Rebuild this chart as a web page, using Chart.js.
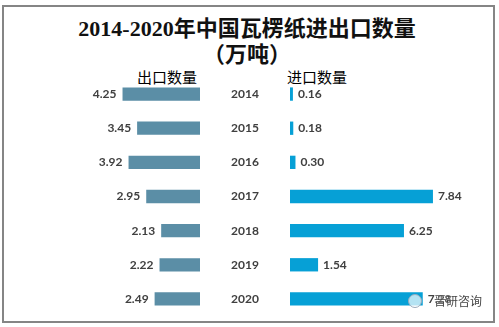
<!DOCTYPE html>
<html>
<head>
<meta charset="utf-8">
<script src="https://cdn.jsdelivr.net/npm/chart.js@4"></script>
<style>
  body { margin: 0; background: #fff; width: 499px; height: 327px; overflow: hidden; position: relative; font-family: "Noto Sans CJK SC", sans-serif; }
  #frame { position: absolute; left: 2px; top: 5px; width: 489px; height: 314px; border: 2px solid #858585; }
  .title { position: absolute; left: 0; width: 494px; text-align: center; font-family: "Liberation Serif", "Noto Sans CJK SC", serif; font-weight: bold; font-size: 22px; color: #111; }
  .leg { position: absolute; top: 66px; font-size: 15px; color: #000; width: 80px; text-align: center; }
  #wrapL { position: absolute; left: 60px; top: 77px; width: 140px; height: 239px; }
  #wrapR { position: absolute; left: 200px; top: 77px; width: 280px; height: 239px; }
  #wm { position: absolute; left: 408px; top: 290px; font-size: 12px; color: #444; }
  #wm i { display: inline-block; width: 12px; height: 12px; border-radius: 50%; border: 1.5px solid #9ab; background: rgba(255,255,255,0.7); vertical-align: middle; margin-right: 12px; }
  #wm span { vertical-align: middle; text-shadow: 0 0 2px #fff; }
</style>
</head>
<body>
<div id="frame"></div>
<div class="title" style="top:10px">2014-2020年中国瓦楞纸进出口数量</div>
<div class="title" style="top:36px">（万吨）</div>
<div class="leg" style="left:127px">出口数量</div>
<div class="leg" style="left:277px">进口数量</div>
<div id="wrapL"><canvas id="chartExport"></canvas></div>
<div id="wrapR"><canvas id="chartImport"></canvas></div>
<div id="wm"><i></i><span>晋研咨询</span></div>
<script>
const years = ['2014', '2015', '2016', '2017', '2018', '2019', '2020'];
const exportVals = [4.25, 3.45, 3.92, 2.95, 2.13, 2.22, 2.49];
const importVals = [0.16, 0.18, 0.30, 7.84, 6.25, 1.54, 7.28];

const labelFont = 'bold 12px Lato, "Open Sans", sans-serif';

// value labels at the end of each bar (and year labels for the right chart)
const valueLabels = {
  id: 'valueLabels',
  afterDatasetsDraw(chart) {
    const ctx = chart.ctx;
    const reversed = chart.options.scales.x.reverse;
    ctx.save();
    ctx.font = labelFont;
    ctx.fillStyle = '#404040';
    ctx.textBaseline = 'middle';
    chart.getDatasetMeta(0).data.forEach((bar, i) => {
      const v = chart.data.datasets[0].data[i].toFixed(2);
      if (reversed) {
        ctx.textAlign = 'right';
        ctx.fillText(v, bar.x - 6, bar.y);
      } else {
        ctx.textAlign = 'left';
        ctx.fillText(v, bar.x + 5, bar.y);
        ctx.textAlign = 'center';
        ctx.fillText(chart.data.labels[i], chart.chartArea.left - 45, bar.y);
      }
    });
    ctx.restore();
  }
};

const common = {
  indexAxis: 'y',
  responsive: true,
  maintainAspectRatio: false,
  animation: false,
  plugins: { legend: { display: false }, tooltip: { enabled: false } }
};

const chartExport = new Chart(document.getElementById('chartExport'), {
  type: 'bar',
  data: {
    labels: years,
    datasets: [
      { label: '出口数量', data: exportVals, backgroundColor: '#5b8ea6', categoryPercentage: 1, barPercentage: 0.39 }
    ]
  },
  options: {
    ...common,
    layout: { padding: 0 },
    scales: {
      x: { display: false, min: 0, max: 7.68, reverse: true },
      y: { display: false }
    }
  },
  plugins: [valueLabels]
});

const chartImport = new Chart(document.getElementById('chartImport'), {
  type: 'bar',
  data: {
    labels: years,
    datasets: [
      { label: '进口数量', data: importVals, backgroundColor: '#06a0d6', categoryPercentage: 1, barPercentage: 0.39 }
    ]
  },
  options: {
    ...common,
    layout: { padding: { left: 90 } },
    scales: {
      x: { display: false, min: 0, max: 10.42 },
      y: { display: false }
    }
  },
  plugins: [valueLabels]
});
</script>
</body>
</html>
